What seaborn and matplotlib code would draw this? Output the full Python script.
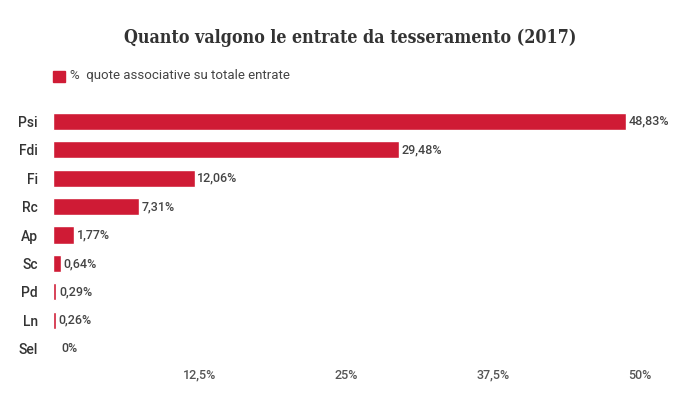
import matplotlib
matplotlib.use("Agg")
import matplotlib.pyplot as plt
import seaborn as sns
import pandas as pd
from matplotlib.patches import Rectangle

parties = ["Psi", "Fdi", "Fi", "Rc", "Ap", "Sc", "Pd", "Ln", "Sel"]
values = [48.83, 29.48, 12.06, 7.31, 1.77, 0.64, 0.29, 0.26, 0.0]
value_labels = ["48,83%", "29,48%", "12,06%", "7,31%", "1,77%", "0,64%", "0,29%", "0,26%", "0%"]
xticks = [12.5, 25, 37.5, 50]
xtick_labels = ["12,5%", "25%", "37,5%", "50%"]
series_name = "%  quote associative su totale entrate"
title = "Quanto valgono le entrate da tesseramento (2017)"

RED = "#cf1b35"
sns.set_theme(style="white")
plt.rcParams["font.family"] = ["Roboto", "DejaVu Sans"]

df = pd.DataFrame({"party": parties, "value": values})

W, H = 700, 405
fig = plt.figure(figsize=(W / 100, H / 100), dpi=100)
ax = fig.add_axes([53 / W, 1 - 363 / H, (640 - 53) / W, (363 - 107) / H])

sns.barplot(data=df, x="value", y="party", orient="h", color=RED,
            saturation=1, width=0.6, ax=ax)

ax.set_xlim(0, 50)
ax.set_ylim(8.5, -0.5)
ax.set_xticks(xticks)
ax.set_xticklabels(xtick_labels, fontsize=9, color="#555555", fontweight="medium")
ax.tick_params(axis="x", length=0, pad=4)
ax.tick_params(axis="y", length=0, pad=11)
for lab in ax.get_yticklabels():
    lab.set_fontsize(10)
    lab.set_color("#333333")
    lab.set_fontweight("medium")
ax.set_xlabel("")
ax.set_ylabel("")
for s in ax.spines.values():
    s.set_visible(False)
ax.grid(False)

for i, (v, lbl) in enumerate(zip(values, value_labels)):
    ax.annotate(lbl, (v, i), xytext=(2 if v > 0 else 6, 0), textcoords="offset points",
                va="center", ha="left", fontsize=9, color="#444444", fontweight="medium")

fig.text(0.5, 1 - 38 / H, title, ha="center", va="center", fontsize=12.8,
         fontweight="bold", color="#333333", family=["DejaVu Serif"],
         fontstretch="condensed")
fig.patches.append(Rectangle((53 / W, 1 - 82 / H), 12 / W, 11 / H,
                             transform=fig.transFigure, color=RED))
fig.text(70 / W, 1 - 76 / H, series_name, ha="left", va="center", fontsize=9.5,
         color="#444444")

fig.savefig("out.png", dpi=100)
